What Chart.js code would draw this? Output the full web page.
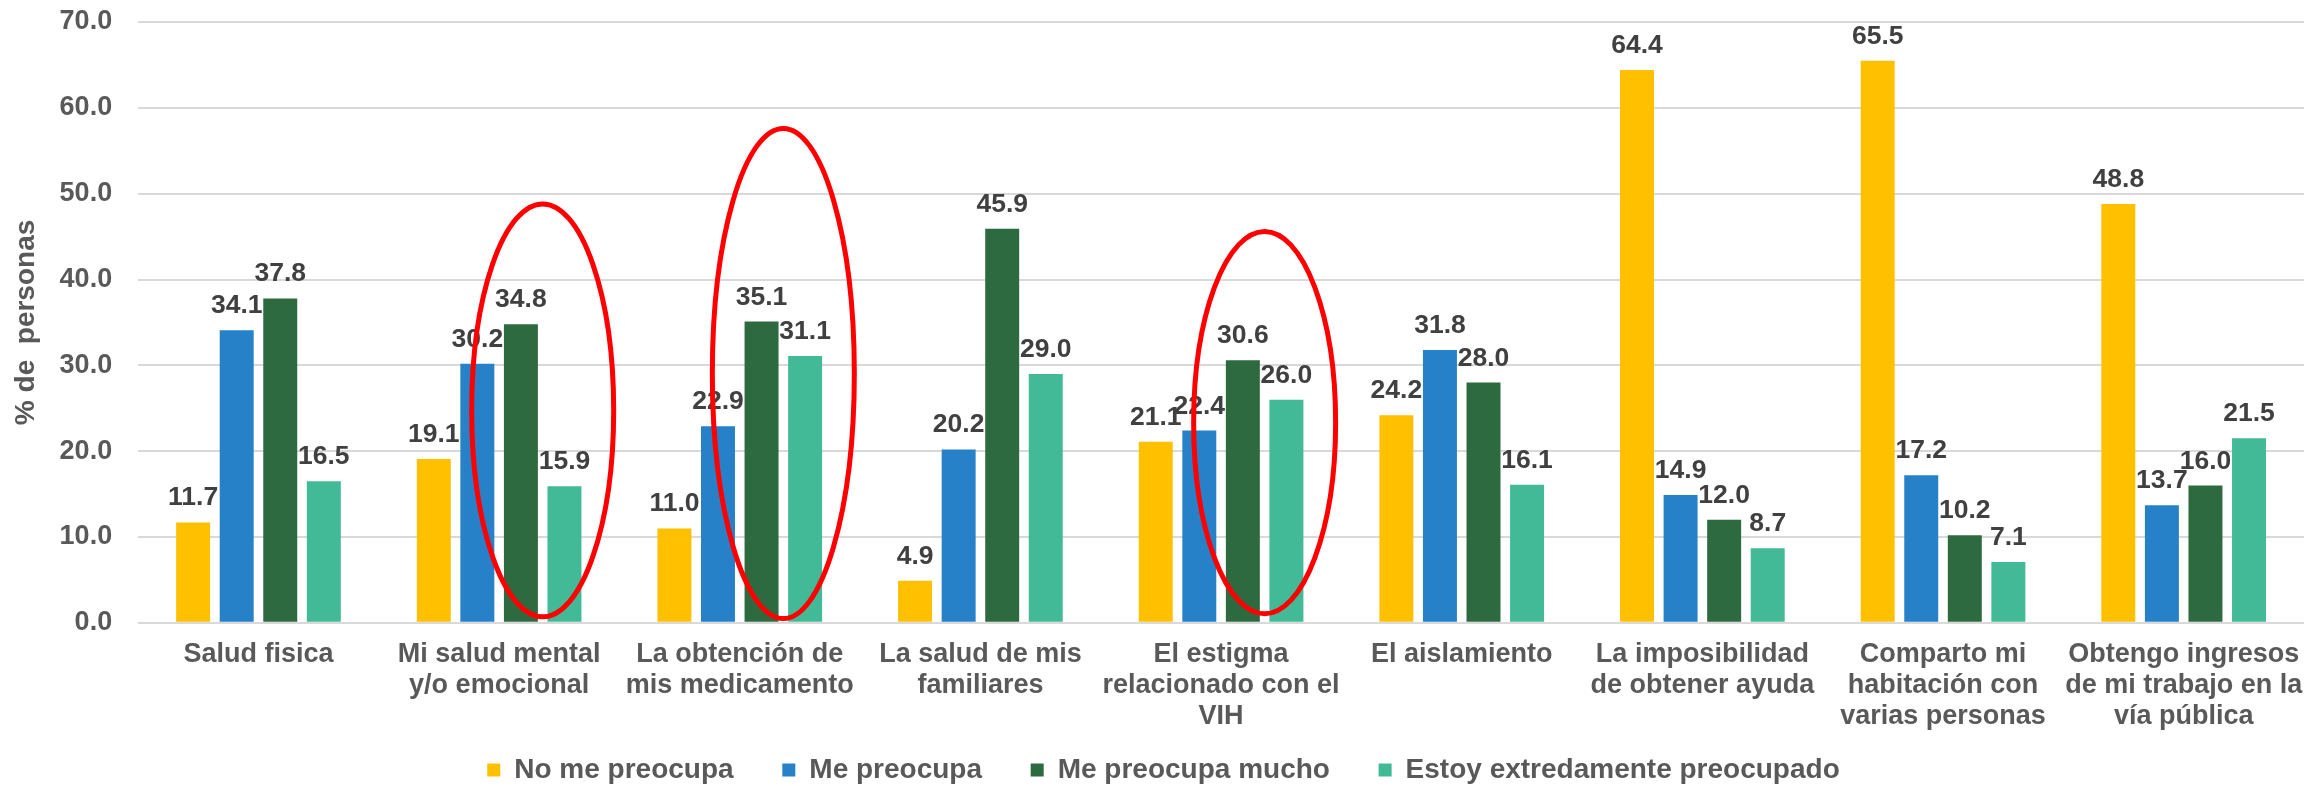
<!DOCTYPE html>
<html>
<head>
<meta charset="utf-8">
<script src="https://cdn.jsdelivr.net/npm/chart.js@4/dist/chart.umd.min.js"></script>
<style>
  body { margin: 0; background: #fff; }
  canvas { display: block; }
</style>
</head>
<body>
<canvas id="myChart" width="2305" height="786"></canvas>
<script>
const categories = [
  "Salud fisica",
  ["Mi salud mental", "y/o emocional"],
  ["La obtención de", "mis medicamento"],
  ["La salud de mis", "familiares"],
  ["El estigma", "relacionado con el", "VIH"],
  "El aislamiento",
  ["La imposibilidad", "de obtener ayuda"],
  ["Comparto mi", "habitación con", "varias personas"],
  ["Obtengo ingresos", "de mi trabajo en la", "vía pública"],
];

const seriesNames = [
  "No me preocupa",
  "Me preocupa",
  "Me preocupa mucho",
  "Estoy extredamente preocupado",
];

const noMePreocupa = [11.7, 19.1, 11.0, 4.9, 21.1, 24.2, 64.4, 65.5, 48.8];
const mePreocupa = [34.1, 30.2, 22.9, 20.2, 22.4, 31.8, 14.9, 17.2, 13.7];
const mePreocupaMucho = [37.8, 34.8, 35.1, 45.9, 30.6, 28.0, 12.0, 10.2, 16.0];
const extremadamente = [16.5, 15.9, 31.1, 29.0, 26.0, 16.1, 8.7, 7.1, 21.5];

const yMin = 0;
const yMax = 70;
const yStep = 10;

// red ovals drawn over groups 1, 2 and 4 (value range they span)
const ovalGroups = [1, 2, 4];
const ovalTop = [48.8, 57.6, 45.6];
const ovalBottom = [0.7, 0.5, 1.05];

const colors = ["#FFC000", "#2681C8", "#2E6A3F", "#43BA97"];
const allSeries = [noMePreocupa, mePreocupa, mePreocupaMucho, extremadamente];

const valueLabels = {
  id: "valueLabels",
  afterDatasetsDraw(chart) {
    const ctx = chart.ctx;
    ctx.save();
    ctx.font = "bold 26.5px 'Liberation Sans', Arial, sans-serif";
    ctx.fillStyle = "#404040";
    ctx.textAlign = "center";
    ctx.textBaseline = "alphabetic";
    chart.data.datasets.forEach((ds, i) => {
      chart.getDatasetMeta(i).data.forEach((bar, j) => {
        ctx.fillText(ds.data[j].toFixed(1), bar.x, bar.y - 17);
      });
    });
    ctx.restore();
  },
};

const ovals = {
  id: "ovals",
  afterDraw(chart) {
    const ctx = chart.ctx;
    const y = chart.scales.y;
    const m2 = chart.getDatasetMeta(2).data;
    const m3 = chart.getDatasetMeta(3).data;
    ctx.save();
    ctx.strokeStyle = "#FF0000";
    ctx.lineWidth = 5;
    ovalGroups.forEach((g, k) => {
      const cx = (m2[g].x + m3[g].x) / 2;
      const rx = (m3[g].x - m2[g].x) * 1.63;
      const top = y.getPixelForValue(ovalTop[k]);
      const bottom = y.getPixelForValue(ovalBottom[k]);
      ctx.beginPath();
      ctx.ellipse(cx, (top + bottom) / 2, rx, (bottom - top) / 2, 0, 0, Math.PI * 2);
      ctx.stroke();
    });
    ctx.restore();
  },
};

// nudge the legend a little right, as in the original
const legendShift = {
  id: "legendShift",
  beforeDraw(chart) {
    chart.legend.left += 7;
    chart.legend.right += 7;
  },
};

const ctx = document.getElementById("myChart").getContext("2d");
const myChart = new Chart(ctx, {
  type: "bar",
  data: {
    labels: categories,
    datasets: allSeries.map((data, i) => ({
      label: seriesNames[i],
      data: data,
      backgroundColor: colors[i],
      borderWidth: 0,
      categoryPercentage: 0.724,
      barPercentage: 0.78,
    })),
  },
  options: {
    responsive: false,
    animation: false,
    layout: {
      padding: { top: 22, left: 9, right: 1, bottom: -8 },
    },
    scales: {
      x: {
        grid: { display: false, drawTicks: true, tickLength: 16 },
        border: { display: false },
        ticks: {
          autoSkip: false,
          maxRotation: 0,
          padding: 0,
          color: "#595959",
          font: { family: "'Liberation Sans', Arial, sans-serif", size: 27, weight: "bold", lineHeight: 1.15 },
        },
        afterFit: (scale) => {
          scale.height += 22;
        },
      },
      y: {
        min: yMin,
        max: yMax,
        border: { display: false },
        grid: {
          color: "#D9D9D9",
          lineWidth: 2,
          drawTicks: true,
          tickLength: 26,
          tickColor: "rgba(0,0,0,0)",
        },
        ticks: {
          stepSize: yStep,
          padding: 0,
          color: "#595959",
          font: { family: "'Liberation Sans', Arial, sans-serif", size: 27, weight: "bold" },
          callback: (v) => v.toFixed(1),
        },
        title: {
          display: true,
          text: "% de  personas",
          color: "#595959",
          padding: { top: 0, bottom: 17 },
          font: { family: "'Liberation Sans', Arial, sans-serif", size: 28, weight: "bold", lineHeight: 1.2 },
        },
      },
    },
    plugins: {
      tooltip: { enabled: false },
      legend: {
        position: "bottom",
        labels: {
          boxWidth: 13,
          boxHeight: 13,
          padding: 2,
          color: "#595959",
          font: { family: "'Liberation Sans', Arial, sans-serif", size: 28, weight: "bold" },
          generateLabels: (chart) => {
            const items = Chart.defaults.plugins.legend.labels.generateLabels(chart);
            items.forEach((it, i) => {
              if (i < items.length - 1) it.text += "      ";
            });
            return items;
          },
        },
      },
    },
  },
  plugins: [valueLabels, ovals, legendShift],
});
</script>
</body>
</html>
